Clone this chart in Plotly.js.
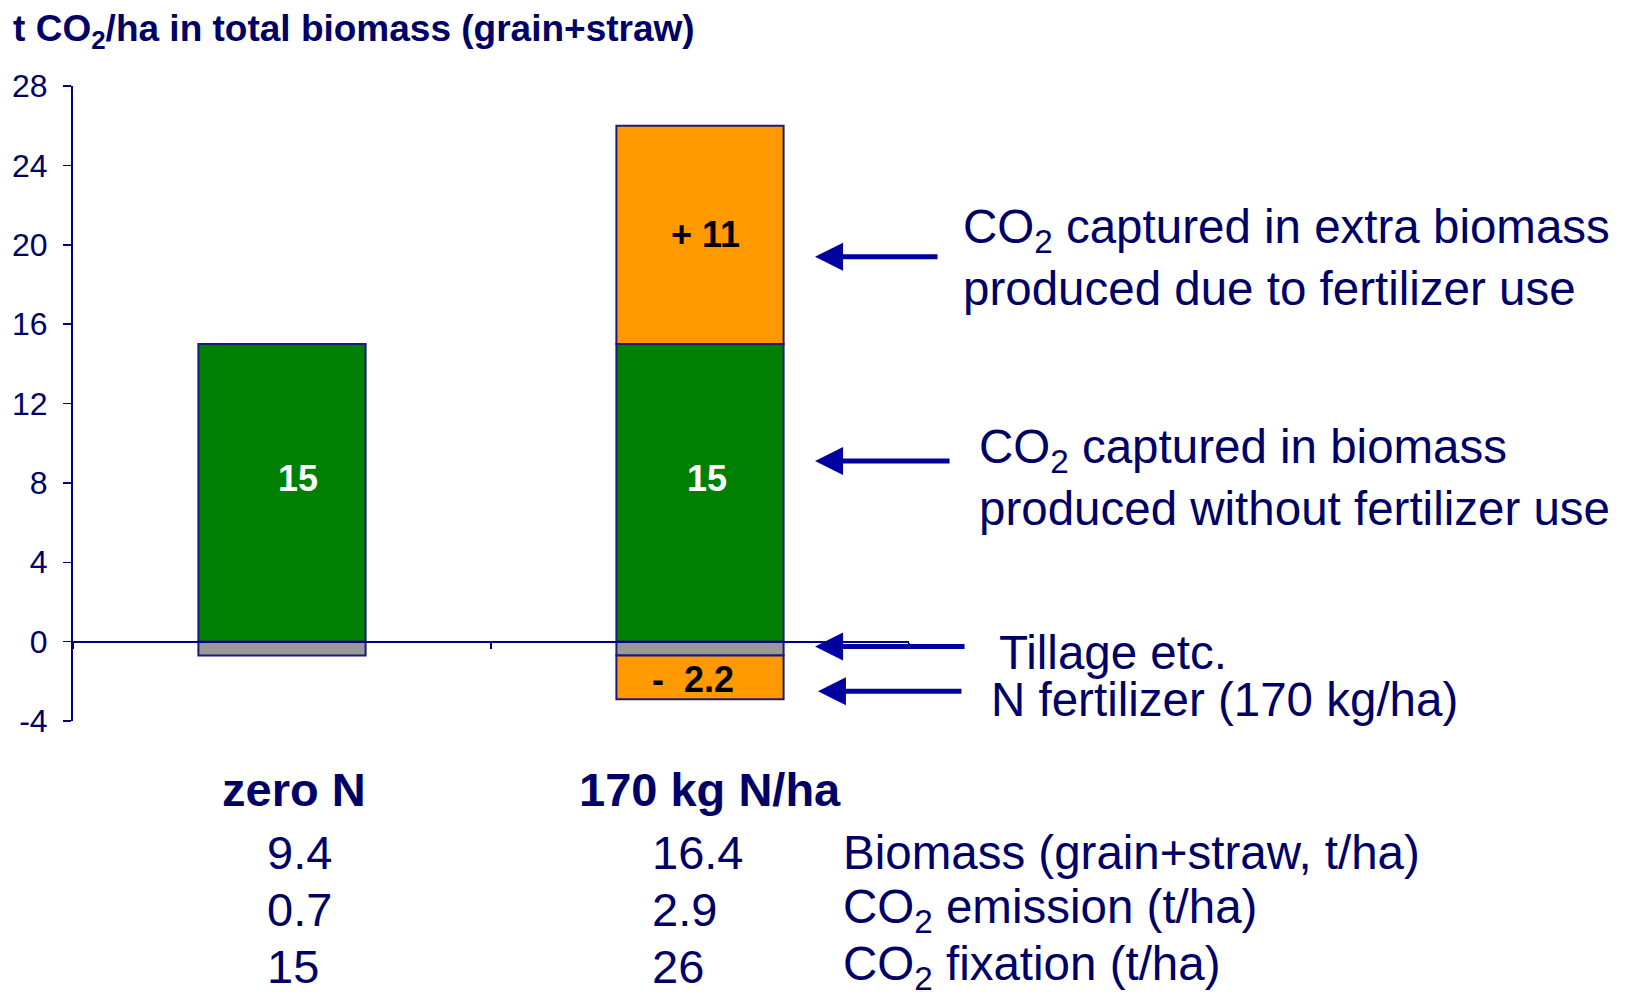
<!DOCTYPE html>
<html>
<head>
<meta charset="utf-8">
<script src="https://cdn.plot.ly/plotly-3.0.1.min.js"></script>
<style>
html, body { margin: 0; padding: 0; background: #ffffff; }
#chart { width: 1638px; height: 995px; }
</style>
</head>
<body>
<div id="chart"></div>
<script>
// ---- data ----
var categories = ['zero N', '170 kg N/ha'];
var baseBiomassCO2 = [15, 15];        // CO2 captured without fertilizer
var extraBiomassCO2 = [null, 11];     // extra CO2 captured due to fertilizer
var tillageCO2 = [-0.7, -0.7];        // tillage etc.
var fertilizerCO2 = [null, -2.2];     // N fertilizer emission

var baseLabels = ['15', '15'];
var extraLabel = '+ 11';
var fertilizerLabel = '-&nbsp; 2.2';

var tableRowLabels = ['Biomass (grain+straw, t/ha)', 'CO<sub>2</sub> emission (t/ha)', 'CO<sub>2</sub> fixation (t/ha)'];
var tableZeroN = ['9.4', '0.7', '15'];
var table170N = ['16.4', '2.9', '26'];

var yTicks = [-4, 0, 4, 8, 12, 16, 20, 24, 28];

var calloutTexts = [
  'CO<sub>2</sub> captured in extra biomass<br>produced due to fertilizer use',
  'CO<sub>2</sub> captured in biomass<br>produced without fertilizer use',
  'Tillage etc.',
  'N fertilizer (170 kg/ha)'
];
var calloutTargets = [19.4, 9.1, -0.25, -2.5];

// ---- styles ----
var FONT = 'Liberation Sans, Arial, Helvetica, sans-serif';
var NAVY = '#000066';
var AXIS = '#000080';
var ARROW = '#0000a0';
var outline = {color: '#1a1a7a', width: 2};

function barTrace(vals, color, name) {
  return {
    type: 'bar', x: categories, y: vals, name: name,
    width: 0.4,
    marker: {color: color, line: outline},
    hoverinfo: 'skip'
  };
}

var data = [
  barTrace(baseBiomassCO2, '#008000', 'base'),
  barTrace(extraBiomassCO2, '#ff9900', 'extra'),
  barTrace(tillageCO2, '#999999', 'tillage'),
  barTrace(fertilizerCO2, '#ff9900', 'fertilizer')
];

var ann = [];

// bar value labels
var baseLabelShift = [16, 7];
for (var i = 0; i < categories.length; i++) {
  ann.push({xref: 'x', yref: 'y', x: categories[i], y: baseBiomassCO2[i] / 2, xshift: baseLabelShift[i], yshift: 14,
    text: '<b>' + baseLabels[i] + '</b>', showarrow: false,
    font: {family: FONT, size: 36, color: '#ffffff'}});
}
ann.push({xref: 'x', yref: 'y', x: categories[1], y: baseBiomassCO2[1] + extraBiomassCO2[1] / 2, xshift: 5, yshift: 0,
  text: '<b>' + extraLabel + '</b>', showarrow: false,
  font: {family: FONT, size: 36, color: '#000000'}});
ann.push({xref: 'x', yref: 'y', x: categories[1], y: tillageCO2[1] + fertilizerCO2[1] / 2, xshift: -7, yshift: -2,
  text: '<b>' + fertilizerLabel + '</b>', showarrow: false,
  font: {family: FONT, size: 36, color: '#000000'}});

// arrows
var arrowHeadX = [0.8876, 0.8876, 0.8876, 0.8911];
var arrowTail = [124, 136, 151, 145];
for (var k = 0; k < calloutTargets.length; k++) {
  ann.push({xref: 'paper', yref: 'y', x: arrowHeadX[k], y: calloutTargets[k],
    ax: arrowTail[k], ay: 0, text: '', showarrow: true,
    arrowhead: 2, arrowsize: 1.12, arrowwidth: 5, arrowcolor: ARROW});
}

// callout texts
var calloutX = [1.0622, 1.0813, 1.1053, 1.0957];
var calloutY = [0.7300, 0.3840, 0.1085, 0.0331];
for (var c = 0; c < calloutTexts.length; c++) {
  ann.push({xref: 'paper', yref: 'paper', x: calloutX[c], y: calloutY[c],
    xanchor: 'left', yanchor: 'middle', align: 'left',
    text: calloutTexts[c], showarrow: false,
    font: {family: FONT, size: 47.5, color: NAVY}});
}

// category headers under the chart
var headerX = [0.2638, 0.7623];
for (var h = 0; h < categories.length; h++) {
  ann.push({xref: 'paper', yref: 'paper', x: headerX[h], y: -0.1071,
    xanchor: 'center', yanchor: 'middle', text: '<b>' + categories[h] + '</b>', showarrow: false,
    font: {family: FONT, size: 47, color: NAVY}});
}

// table rows
var rowY = [-0.2063, -0.2976, -0.3874];
for (var r = 0; r < tableRowLabels.length; r++) {
  ann.push({xref: 'paper', yref: 'paper', x: 0.2302, y: rowY[r], xanchor: 'left', yanchor: 'middle',
    text: tableZeroN[r], showarrow: false, font: {family: FONT, size: 47, color: NAVY}});
  ann.push({xref: 'paper', yref: 'paper', x: 0.6901, y: rowY[r], xanchor: 'left', yanchor: 'middle',
    text: table170N[r], showarrow: false, font: {family: FONT, size: 47, color: NAVY}});
  ann.push({xref: 'paper', yref: 'paper', x: 0.9185, y: rowY[r], xanchor: 'left', yanchor: 'middle',
    text: tableRowLabels[r], showarrow: false, font: {family: FONT, size: 47.5, color: NAVY}});
}

var layout = {
  width: 1638, height: 995,
  margin: {l: 73, r: 729, t: 86, b: 274, pad: 0},
  paper_bgcolor: '#ffffff', plot_bgcolor: '#ffffff',
  showlegend: false,
  barmode: 'relative',
  title: {
    text: '<b>t CO<sub>2</sub>/ha in total biomass (grain+straw)</b>',
    x: 0.008, xanchor: 'left', xref: 'container',
    y: 1 - 28 / 995, yanchor: 'middle', yref: 'container',
    font: {family: FONT, size: 37, color: NAVY}
  },
  xaxis: {
    type: 'category', range: [-0.5, 1.5],
    anchor: 'free', position: 0.125,
    showline: true, linecolor: AXIS, linewidth: 2,
    ticks: 'outside', tickson: 'boundaries', ticklen: 6, tickcolor: AXIS, tickwidth: 1.5,
    showticklabels: false, showgrid: false, zeroline: false, fixedrange: true
  },
  yaxis: {
    range: [-4, 28], tickvals: yTicks, ticktext: yTicks.map(String),
    showline: true, linecolor: AXIS, linewidth: 2,
    ticks: 'outside', ticklen: 8, tickcolor: AXIS, tickwidth: 1.5,
    ticklabelstandoff: 9,
    tickfont: {family: FONT, size: 32, color: NAVY},
    showgrid: false, zeroline: false, fixedrange: true
  },
  annotations: ann
};

Plotly.newPlot('chart', data, layout, {staticPlot: true, displayModeBar: false});
</script>
</body>
</html>
